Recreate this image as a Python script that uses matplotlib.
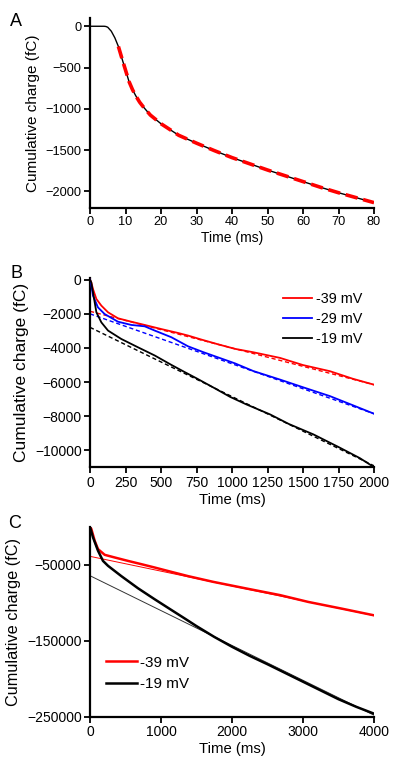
import matplotlib
matplotlib.use("Agg")
import matplotlib.pyplot as plt

plt.rcParams['font.family'] = ['Liberation Sans', 'DejaVu Sans']

# ---------------- Panel A ----------------
a_time = [0, 2, 4, 4.5, 5, 6, 7, 8, 9, 10, 11, 12, 13, 14, 15, 17, 20, 25, 30, 35,
          40, 45, 50, 55, 60, 65, 70, 75, 80]
a_charge = [0, 0, 0, -3, -12, -60, -140, -245, -390, -530, -670, -770, -850, -920,
            -975, -1075, -1180, -1320, -1415, -1505, -1590, -1665, -1740, -1810,
            -1880, -1950, -2015, -2075, -2135]
a_fit_time = [8, 9, 10, 11, 12, 13, 14, 15, 17, 20, 25, 30, 35, 40, 45, 50, 55, 60,
              65, 70, 75, 80]
a_fit_charge = [-245, -390, -530, -670, -770, -850, -920, -975, -1075, -1180, -1320,
                -1415, -1505, -1590, -1665, -1740, -1810, -1880, -1950, -2015,
                -2075, -2135]
a_xticks = [0, 10, 20, 30, 40, 50, 60, 70, 80]
a_yticks = [0, -500, -1000, -1500, -2000]

# ---------------- Panel B ----------------
b_labels = ['-39 mV', '-29 mV', '-19 mV']
b_red_t = [0, 9, 21, 45, 80, 127, 197, 291, 385, 502, 620, 690, 786, 900, 1021,
           1150, 1338, 1500, 1690, 1850, 2000]
b_red_q = [0, -150, -545, -1130, -1520, -1910, -2260, -2460, -2650, -2890, -3120,
           -3270, -3510, -3780, -4050, -4250, -4580, -5000, -5360, -5800, -6150]
b_blue_t = [0, 9, 21, 56, 103, 197, 291, 385, 456, 573, 690, 800, 1021, 1150, 1338,
            1500, 1690, 1850, 2000]
b_blue_q = [0, -300, -935, -1620, -2010, -2460, -2650, -2730, -2980, -3370, -3900,
            -4250, -4900, -5350, -5850, -6300, -6820, -7350, -7850]
b_black_t = [0, 9, 21, 45, 80, 127, 220, 338, 456, 573, 669, 751, 870, 986, 1100,
             1268, 1400, 1573, 1750, 1900, 2000]
b_black_q = [0, -160, -740, -1910, -2500, -2980, -3470, -3960, -4440, -4990, -5420,
             -5780, -6320, -6860, -7300, -7890, -8450, -9060, -9800, -10450, -10980]
b_fit_t = [0, 2000]
b_red_fit = [-1850, -6150]
b_blue_fit = [-2000, -7850]
b_black_fit = [-2790, -10900]
b_xticks = [0, 250, 500, 750, 1000, 1250, 1500, 1750, 2000]
b_yticks = [0, -2000, -4000, -6000, -8000, -10000]

# ---------------- Panel C ----------------
c_labels = ['-39 mV', '-19 mV']
c_red_t = [0, 19, 66, 113, 207, 348, 535, 723, 911, 1145, 1380, 1737, 2207, 2676,
           3075, 3545, 4000]
c_red_q = [0, -3000, -18500, -29500, -37000, -40500, -45000, -49300, -53700,
           -59400, -65000, -72600, -81400, -90000, -99000, -107800, -116600]
c_black_t = [0, 42, 113, 183, 254, 441, 676, 911, 1145, 1338, 1500, 1750, 2000,
             2250, 2500, 2750, 3000, 3250, 3500, 3750, 4000]
c_black_q = [0, -14000, -31700, -45000, -51500, -65000, -81000, -95500, -109500,
             -121000, -130800, -145000, -158000, -170000, -181000, -192500, -204000,
             -215500, -227000, -237000, -246000]
c_fit_t = [0, 4000]
c_red_fit = [-39000, -117000]
c_black_fit = [-64500, -248000]
c_xticks = [0, 1000, 2000, 3000, 4000]
c_yticks = [-50000, -150000, -250000]

RED = '#ff0000'
BLUE = '#0000ff'
BLACK = '#000000'

fig = plt.figure(figsize=(4.0, 7.73), dpi=100)
W, H = 400.0, 773.0


def make_ax(top_px, bottom_px):
    return fig.add_axes([90 / W, 1 - bottom_px / H, (374 - 90) / W,
                         (bottom_px - top_px) / H])


def style(ax, tick_fs):
    for s in ['top', 'right']:
        ax.spines[s].set_visible(False)
    for s in ['left', 'bottom']:
        ax.spines[s].set_linewidth(1.6)
    ax.tick_params(direction='out', length=4, width=1.3, labelsize=tick_fs, pad=2)


# Panel A
axA = make_ax(18, 208)
axA.plot(a_time, a_charge, color=BLACK, lw=1.0, zorder=2)
axA.plot(a_fit_time, a_fit_charge, color=RED, lw=2.6, ls=(0, (3.4, 1.6)), zorder=3)
axA.set_xlim(0, 80)
axA.set_ylim(-2200, 100)
axA.set_xticks(a_xticks)
axA.set_yticks(a_yticks)
style(axA, 9.2)
axA.set_xlabel('Time (ms)', fontsize=10, labelpad=2)
axA.set_ylabel('Cumulative charge (fC)', fontsize=11, labelpad=4)

# Panel B
axB = make_ax(278, 467.5)
axB.plot(b_fit_t, b_red_fit, color=RED, lw=1.0, ls=(0, (3, 2)), zorder=2)
axB.plot(b_fit_t, b_blue_fit, color=BLUE, lw=1.0, ls=(0, (3, 2)), zorder=2)
axB.plot(b_fit_t, b_black_fit, color=BLACK, lw=1.0, ls=(0, (3, 2)), zorder=2)
axB.plot(b_red_t, b_red_q, color=RED, lw=1.3, label=b_labels[0], zorder=3)
axB.plot(b_blue_t, b_blue_q, color=BLUE, lw=1.3, label=b_labels[1], zorder=3)
axB.plot(b_black_t, b_black_q, color=BLACK, lw=1.3, label=b_labels[2], zorder=3)
axB.set_xlim(0, 2000)
axB.set_ylim(-11000, 100)
axB.set_xticks(b_xticks)
axB.set_yticks(b_yticks)
style(axB, 10)
axB.set_xlabel('Time (ms)', fontsize=10.7, labelpad=2)
axB.set_ylabel('Cumulative charge (fC)', fontsize=12.5, labelpad=4)
axB.legend(loc='upper left', bbox_to_anchor=(193 / 284, 1 - 14 / 189.5),
           frameon=False, fontsize=10.4, handlelength=2.0, handletextpad=0.3,
           labelspacing=0.42, borderaxespad=0.0, borderpad=0.0)

# Panel C
axC = make_ax(526.7, 716.7)
axC.plot(c_fit_t, c_red_fit, color=RED, lw=0.7, zorder=2)
axC.plot(c_fit_t, c_black_fit, color='#333333', lw=0.7, zorder=2)
axC.plot(c_red_t, c_red_q, color=RED, lw=1.8, label=c_labels[0], zorder=3)
axC.plot(c_black_t, c_black_q, color=BLACK, lw=1.8, label=c_labels[1], zorder=3)
axC.set_xlim(0, 4000)
axC.set_ylim(-250000, 0)
axC.set_xticks(c_xticks)
axC.set_yticks(c_yticks)
style(axC, 10)
axC.set_xlabel('Time (ms)', fontsize=10.7, labelpad=2)
axC.set_ylabel('Cumulative charge (fC)', fontsize=11.7, labelpad=4)
axC.legend(loc='upper left', bbox_to_anchor=(16 / 284, 1 - 129 / 190),
           frameon=False, fontsize=11, handlelength=2.0, handletextpad=0.25,
           labelspacing=0.5, borderaxespad=0.0, borderpad=0.0)

# panel letters
fig.text(10 / W, 1 - 26 / H, 'A', fontsize=13, va='baseline', ha='left')
fig.text(10 / W, 1 - 278.5 / H, 'B', fontsize=13, va='baseline', ha='left')
fig.text(8 / W, 1 - 528 / H, 'C', fontsize=13, va='baseline', ha='left')

fig.savefig('out.png', dpi=100)
